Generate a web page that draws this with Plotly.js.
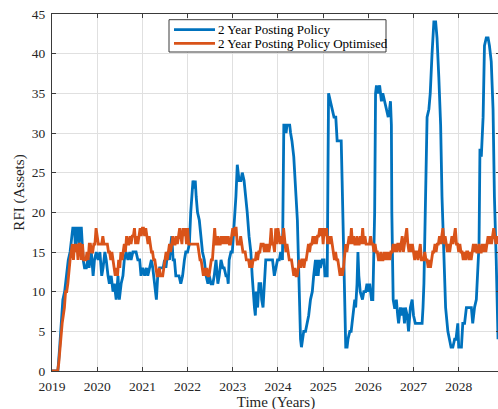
<!DOCTYPE html>
<html>
<head>
<meta charset="utf-8">
<script src="https://cdn.plot.ly/plotly-3.0.1.min.js"></script>
<style>
  html, body { margin: 0; padding: 0; background: #ffffff; overflow: hidden; }
  #chart { width: 500px; height: 420px; }
</style>
</head>
<body>
<div id="chart"></div>
<script>
// RFI asset counts over time for the two posting policies

const seriesNames = ['2 Year Posting Policy', '2 Year Posting Policy Optimised'];
const seriesColors = ['#0072BD', '#D95319'];

const yearTicks = [2019, 2020, 2021, 2022, 2023, 2024, 2025, 2026, 2027, 2028];
const yearTickText = ['2019', '2020', '2021', '2022', '2023', '2024', '2025', '2026', '2027', '2028'];
const assetTicks = [0, 5, 10, 15, 20, 25, 30, 35, 40, 45];

// Standard policy (sample time in years, assets)
const postingYears = [
  2019.00, 2019.13, 2019.17, 2019.21, 2019.24, 2019.28, 2019.32, 2019.36, 2019.40, 2019.43,
  2019.46, 2019.50, 2019.52, 2019.55, 2019.58, 2019.60, 2019.62, 2019.65, 2019.67, 2019.69,
  2019.72, 2019.76, 2019.79, 2019.82, 2019.87, 2019.91, 2019.94, 2019.98, 2020.02, 2020.06,
  2020.10, 2020.13, 2020.17, 2020.20, 2020.24, 2020.27, 2020.31, 2020.35, 2020.38, 2020.42,
  2020.46, 2020.49, 2020.53, 2020.57, 2020.60, 2020.64, 2020.68, 2020.72, 2020.75, 2020.79,
  2020.83, 2020.86, 2020.90, 2020.94, 2020.97, 2021.01, 2021.05, 2021.09, 2021.12, 2021.16,
  2021.20, 2021.23, 2021.27, 2021.31, 2021.34, 2021.38, 2021.42, 2021.46, 2021.49, 2021.52,
  2021.56, 2021.60, 2021.63, 2021.65, 2021.68, 2021.71, 2021.74, 2021.78, 2021.81, 2021.85,
  2021.89, 2021.93, 2021.96, 2022.00, 2022.04, 2022.07, 2022.10, 2022.12, 2022.15, 2022.17,
  2022.19, 2022.22, 2022.26, 2022.30, 2022.33, 2022.37, 2022.41, 2022.45, 2022.48, 2022.52,
  2022.56, 2022.59, 2022.63, 2022.67, 2022.70, 2022.74, 2022.78, 2022.81, 2022.85, 2022.88,
  2022.90, 2022.92, 2022.96, 2022.99, 2023.03, 2023.07, 2023.10, 2023.14, 2023.18, 2023.21,
  2023.25, 2023.27, 2023.29, 2023.32, 2023.36, 2023.40, 2023.43, 2023.46, 2023.48, 2023.50,
  2023.52, 2023.55, 2023.58, 2023.62, 2023.64, 2023.67, 2023.69, 2023.73, 2023.77, 2023.81,
  2023.84, 2023.88, 2023.92, 2023.95, 2023.99, 2024.03, 2024.06, 2024.10, 2024.13, 2024.17,
  2024.18, 2024.20, 2024.26, 2024.28, 2024.31, 2024.35, 2024.39, 2024.40, 2024.43, 2024.45,
  2024.48, 2024.50, 2024.52, 2024.55, 2024.57, 2024.61, 2024.65, 2024.68, 2024.72, 2024.76,
  2024.79, 2024.83, 2024.85, 2024.87, 2024.89, 2024.92, 2024.94, 2024.98, 2025.02, 2025.04,
  2025.07, 2025.09, 2025.12, 2025.16, 2025.20, 2025.24, 2025.28, 2025.31, 2025.36, 2025.40,
  2025.42, 2025.45, 2025.47, 2025.50, 2025.53, 2025.55, 2025.59, 2025.62, 2025.64, 2025.67,
  2025.70, 2025.72, 2025.75, 2025.77, 2025.79, 2025.82, 2025.87, 2025.90, 2025.94, 2025.97,
  2026.00, 2026.03, 2026.07, 2026.10, 2026.14, 2026.16, 2026.18, 2026.21, 2026.25, 2026.29,
  2026.32, 2026.36, 2026.40, 2026.44, 2026.47, 2026.49, 2026.51, 2026.52, 2026.55, 2026.58,
  2026.60, 2026.62, 2026.65, 2026.67, 2026.71, 2026.75, 2026.77, 2026.80, 2026.82, 2026.86,
  2026.89, 2026.93, 2026.97, 2027.00, 2027.04, 2027.08, 2027.19, 2027.21, 2027.23, 2027.26,
  2027.30, 2027.34, 2027.37, 2027.41, 2027.45, 2027.49, 2027.52, 2027.56, 2027.60, 2027.63,
  2027.67, 2027.71, 2027.76, 2027.80, 2027.83, 2027.87, 2027.91, 2027.94, 2027.98, 2028.00,
  2028.06, 2028.09, 2028.13, 2028.17, 2028.20, 2028.28, 2028.31, 2028.35, 2028.39, 2028.40,
  2028.42, 2028.45, 2028.47, 2028.50, 2028.54, 2028.57, 2028.61, 2028.65, 2028.68, 2028.72,
  2028.76, 2028.79, 2028.83, 2028.87
];
const postingAssets = [
  0, 0, 3, 6, 9, 10, 12, 14, 15, 17,
  18, 18, 15, 18, 18, 16, 18, 18, 15, 14,
  13, 13, 14, 13, 15, 12, 14, 15, 14, 15,
  12, 13, 15, 14, 12, 11, 12, 10, 11, 9,
  12, 9, 11, 12, 14, 15, 14, 15, 14, 15,
  15, 15, 14, 14, 12, 13, 12, 13, 12, 13,
  14, 13, 11, 9, 12, 13, 13, 13, 14, 13,
  15, 14, 16, 17, 14, 14, 12, 12, 12, 11,
  12, 14, 15, 15, 16, 20, 23, 24, 23, 24,
  22, 20, 19, 17, 15, 14, 12, 11, 12, 11,
  11, 12, 14, 11, 12, 14, 13, 13, 12, 12,
  11, 14, 15, 15, 18, 22, 26, 24, 24, 25,
  24, 23, 22, 20, 17, 15, 12, 9, 8, 7,
  10, 8, 11, 11, 9, 8, 10, 14, 14, 14,
  14, 14, 12, 13, 14, 14, 15, 14, 31, 31,
  30, 31, 31, 30, 29, 27, 24, 22, 19, 14,
  9, 4, 3, 4, 5, 5, 6, 7, 9, 10,
  12, 14, 12, 14, 12, 14, 13, 14, 14, 12,
  12, 12, 35, 34, 33, 32, 32, 29, 29, 29,
  24, 16, 8, 3, 3, 4, 5, 5, 6, 8,
  9, 8, 11, 15, 12, 10, 9, 10, 10, 11,
  10, 11, 9, 9, 20, 35, 36, 35, 36, 34,
  35, 34, 33, 32, 33, 34, 31, 20, 9, 8,
  8, 9, 7, 6, 8, 7, 8, 6, 8, 7,
  5, 8, 9, 7, 6, 6, 6, 8, 11, 20,
  32, 33, 35, 40, 44, 44, 42, 37, 31, 22,
  14, 8, 5, 4, 3, 3, 4, 4, 6, 3,
  3, 6, 6, 8, 8, 8, 6, 8, 9, 10,
  13, 16, 28, 27, 32, 41, 42, 42, 41, 39,
  33, 22, 14, 4
];

// Optimised policy, sampled every 0.025 years from the start of 2019
const optimisedStart = 2019;
const optimisedStep = 0.025;
const optimisedAssets = [
  0, 0, 0, 0, 0, 0, 1, 3, 5, 6, 7, 8, 10, 10, 11, 13, 14, 15, 16,
  14, 16, 15, 16, 14, 16, 16, 14, 16, 14,
  14, 14, 15, 14,
  16, 16, 15,
  15, 16, 16,
  18, 17, 16,
  16, 16, 16, 17, 16, 16, 16, 16, 15,
  15, 14, 15, 14,
  13, 12, 13, 12,
  14, 13, 15, 14,
  15, 16, 15,
  17, 16, 16,
  17, 16, 17, 17, 18,
  16, 17, 16, 17,
  18, 17, 18, 18, 17, 18,
  17, 16, 17, 16,
  15, 15, 14,
  14, 13,
  12, 12, 13, 12, 12, 12,
  13, 14, 15, 14,
  15, 16, 15, 16, 17, 16, 16,
  17, 16, 17, 18, 17,
  16, 18, 17, 18, 16, 18,
  16, 16, 16, 16, 16, 16, 16, 16, 16, 15,
  14, 14, 13,
  12, 13, 12, 13, 12, 12,
  13, 14, 14,
  16, 18, 16,
  16, 17, 16, 16,
  17, 16, 17, 16, 17, 16, 17, 16, 16, 17,
  18, 17, 18, 18, 16,
  16, 16, 17, 16,
  15, 15, 15, 14,
  14, 14, 13, 14,
  13, 14, 14, 14, 15, 14,
  15, 15, 16,
  16, 16, 15, 16,
  15, 16, 15, 16,
  18, 16,
  16, 15,
  18, 16, 18, 17,
  16, 17, 16, 18,
  16, 15, 16, 15,
  14, 14, 14,
  13, 12, 13, 12, 12,
  13, 14, 13, 14, 14, 13, 14, 14,
  15, 16, 15, 16, 16,
  17, 16, 17, 16, 17, 17,
  18, 17, 18, 16, 18, 17, 18,
  16, 17, 16, 17, 16,
  15, 14, 15, 14,
  14, 13, 12, 13, 12, 13,
  15, 16, 15,
  16, 17, 16, 18, 16, 17, 16, 16,
  17, 16, 16, 17, 16, 18, 16, 17, 16,
  16,
  16, 16, 17, 16, 16,
  15, 16, 15, 15,
  14, 14, 15, 14, 14,
  15, 14, 15, 14, 15, 14,
  15, 15, 16, 15,
  16, 15, 16, 16, 15,
  16, 17, 15, 16, 17, 18, 16,
  15, 16, 15, 16, 15,
  14, 15, 15, 14, 15, 16, 14,
  14, 14, 15, 14, 14,
  13, 14, 13, 14, 15,
  15, 16, 15, 16, 16,
  17, 16, 17, 18, 16, 17,
  16, 15, 16, 15,
  16, 17, 16, 17,
  18, 16,
  16, 15, 16, 15,
  15, 14, 15, 14, 15, 15, 14, 15, 14, 15,
  16, 15, 16, 15,
  15, 16, 15, 15, 16, 15, 16, 15,
  16, 17, 16, 17, 16, 17,
  18, 17,
  16, 17, 16
];

// The drawing area runs a little past the visible window on the right and
// bottom, so the right frame edge and the lower part of the x title are cut.
const W = 500, H = 420;
const M = { l: 52, r: 0, t: 14, b: 49 };
const plotW = W - M.l - M.r, plotH = H - M.t - M.b;
const px = (x) => (x - M.l) / plotW;       // pixel -> paper x
const py = (y) => 1 - (y - M.t) / plotH;   // pixel -> paper y

const serif = 'Liberation Serif, Times New Roman, serif';
const axisColor = '#3a3a3a';
const gridColor = '#e0e0e0';

const traces = [
  {
    x: postingYears, y: postingAssets, name: seriesNames[0],
    type: 'scatter', mode: 'lines',
    line: { color: seriesColors[0], width: 2.8 },
    showlegend: false, hoverinfo: 'x+y'
  },
  {
    x0: optimisedStart, dx: optimisedStep, y: optimisedAssets, name: seriesNames[1],
    type: 'scatter', mode: 'lines',
    line: { color: seriesColors[1], width: 2.8 },
    showlegend: false, hoverinfo: 'x+y'
  }
];

// Boxed legend in the upper middle of the axes
const legendBox = { x0: 169, x1: 386, y0: 19.7, y1: 52 };
const legendRows = [29.6, 43.4];
const shapes = [
  {
    type: 'rect', xref: 'paper', yref: 'paper', layer: 'above',
    x0: px(legendBox.x0), x1: px(legendBox.x1), y0: py(legendBox.y1), y1: py(legendBox.y0),
    line: { color: axisColor, width: 1 }, fillcolor: '#ffffff'
  }
];
const annotations = [];
seriesNames.forEach((name, i) => {
  shapes.push({
    type: 'line', xref: 'paper', yref: 'paper', layer: 'above',
    x0: px(174), x1: px(215), y0: py(legendRows[i]), y1: py(legendRows[i]),
    line: { color: seriesColors[i], width: 2.8 }
  });
  annotations.push({
    xref: 'paper', yref: 'paper', x: px(217), y: py(legendRows[i]),
    xanchor: 'left', yanchor: 'middle', showarrow: false, text: name,
    font: { family: serif, size: 13, color: '#000000' }, borderpad: 0
  });
});

const layout = {
  width: W, height: H,
  margin: M,
  paper_bgcolor: '#ffffff', plot_bgcolor: '#ffffff',
  showlegend: false,
  xaxis: {
    range: [2019, 2019 + plotW / 45.19],
    tickvals: yearTicks, ticktext: yearTickText,
    ticks: 'inside', ticklen: 4, tickcolor: axisColor, tickwidth: 1,
    ticklabelstandoff: 3,
    showline: true, linecolor: axisColor, linewidth: 1, mirror: 'ticks',
    showgrid: true, gridcolor: gridColor, gridwidth: 1, zeroline: false,
    tickfont: { family: serif, size: 13.5, color: '#262626' },
    title: { text: 'Time (Years)', font: { family: serif, size: 15, color: '#262626' }, standoff: 3 }
  },
  yaxis: {
    range: [0, 45],
    tickvals: assetTicks,
    ticks: 'inside', ticklen: 4, tickcolor: axisColor, tickwidth: 1,
    ticklabelstandoff: 3,
    showline: true, linecolor: axisColor, linewidth: 1, mirror: 'ticks',
    showgrid: true, gridcolor: gridColor, gridwidth: 1, zeroline: false,
    tickfont: { family: serif, size: 13.5, color: '#262626' },
    title: { text: 'RFI (Assets)', font: { family: serif, size: 15, color: '#262626' }, standoff: 3 }
  },
  shapes: shapes,
  annotations: annotations
};

Plotly.newPlot('chart', traces, layout, { staticPlot: true, displayModeBar: false });
</script>
</body>
</html>
